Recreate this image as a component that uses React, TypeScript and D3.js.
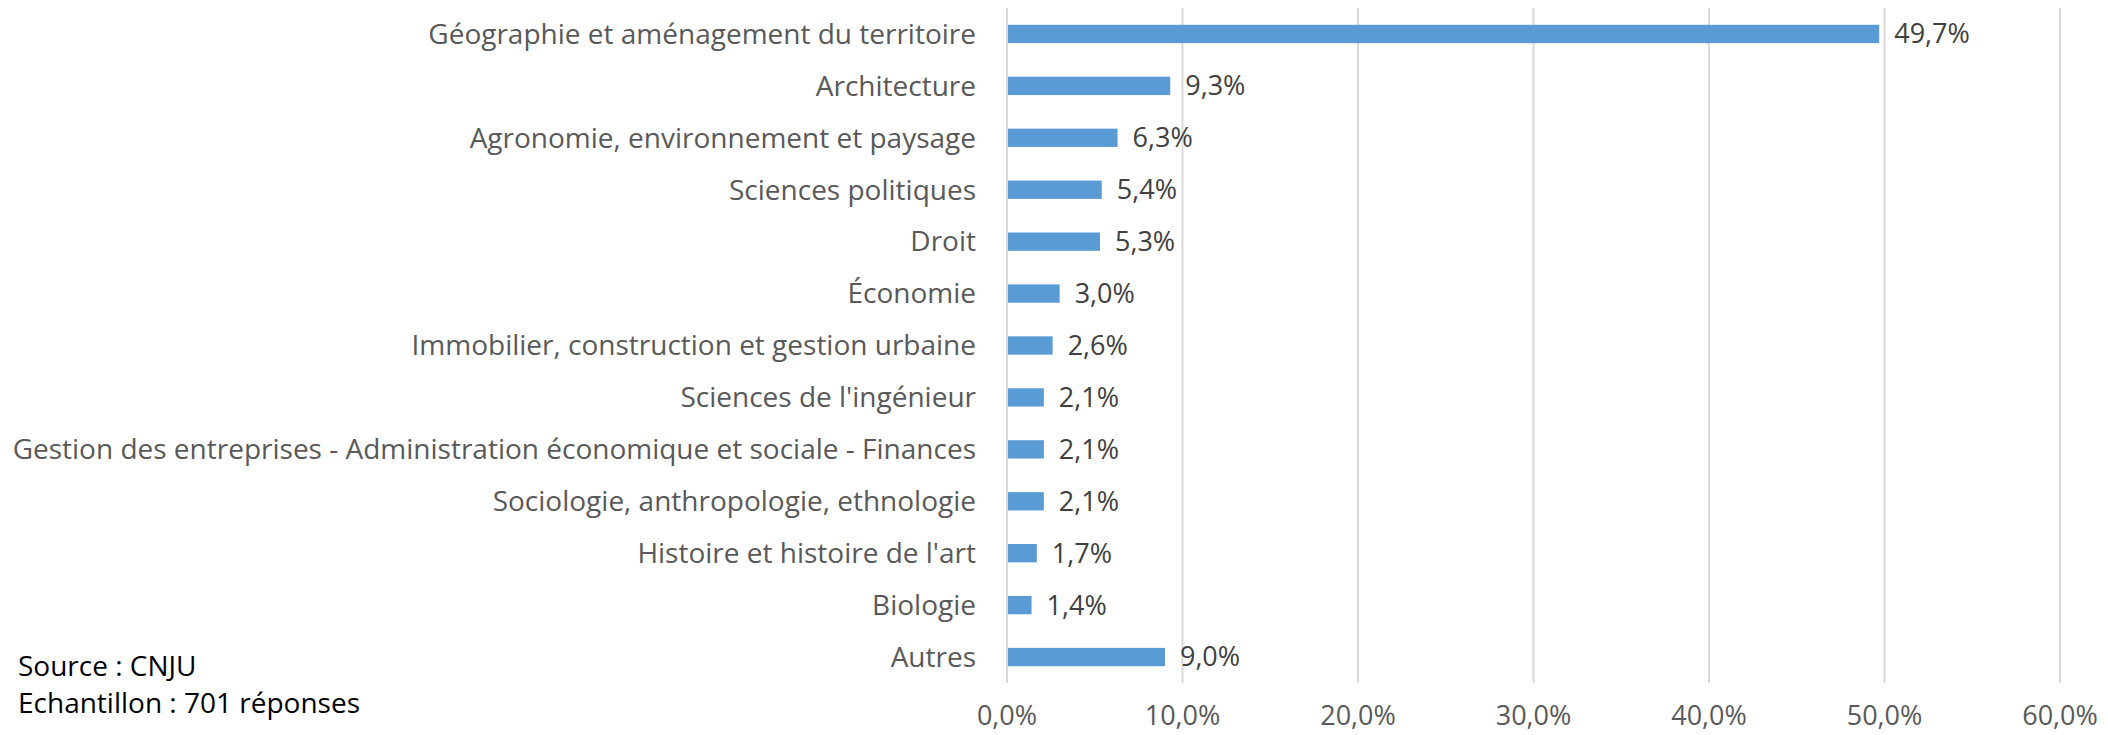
import React, { useRef, useEffect } from 'react';
import * as d3 from 'd3';

// categories, top to bottom
const categories = [
  'Géographie et aménagement du territoire',
  'Architecture',
  'Agronomie, environnement et paysage',
  'Sciences politiques',
  'Droit',
  'Économie',
  'Immobilier, construction et gestion urbaine',
  "Sciences de l'ingénieur",
  'Gestion des entreprises - Administration économique et sociale - Finances',
  'Sociologie, anthropologie, ethnologie',
  "Histoire et histoire de l'art",
  'Biologie',
  'Autres',
];

const values = [49.7, 9.3, 6.3, 5.4, 5.3, 3.0, 2.6, 2.1, 2.1, 2.1, 1.7, 1.4, 9.0];

const ticks = [0, 10, 20, 30, 40, 50, 60];

const sourceLines = ['Source : CNJU', 'Echantillon : 701 réponses'];

const fmt = (v: number) => v.toFixed(1).replace('.', ',') + '%';

const App = () => {
  const svgRef = useRef<SVGSVGElement>(null);

  useEffect(() => {
    const width = 2108;
    const height = 735;
    const left = 1007;
    const right = 2060;
    const top = 8;
    const bottom = 683;
    const font = '"Open Sans", Lato, sans-serif';

    const svg = d3.select(svgRef.current);
    svg.selectAll('*').remove();
    svg.attr('width', width).attr('height', height);

    svg.append('rect').attr('width', width).attr('height', height).attr('fill', 'white');

    const x = d3.scaleLinear().domain([0, 60]).range([left, right]);
    const y = d3.scaleBand().domain(categories).range([top, bottom]).paddingInner(0.647).paddingOuter(0.3235);

    // gridlines
    svg.append('g')
      .selectAll('line')
      .data(ticks)
      .enter()
      .append('line')
      .attr('x1', d => x(d))
      .attr('x2', d => x(d))
      .attr('y1', top)
      .attr('y2', bottom)
      .attr('stroke', '#d9d9d9')
      .attr('stroke-width', 2);

    // tick labels
    svg.append('g')
      .selectAll('text')
      .data(ticks)
      .enter()
      .append('text')
      .attr('x', d => x(d))
      .attr('y', 725)
      .attr('text-anchor', 'middle')
      .style('font-family', font)
      .style('font-size', '27px')
      .style('fill', '#595959')
      .text(d => fmt(d));

    // bars
    svg.append('g')
      .selectAll('rect')
      .data(values)
      .enter()
      .append('rect')
      .attr('x', x(0) + 1)
      .attr('y', (d, i) => y(categories[i])!)
      .attr('width', d => x(d) - x(0) - 1)
      .attr('height', y.bandwidth())
      .attr('fill', '#5b9bd5');

    // value labels
    svg.append('g')
      .selectAll('text')
      .data(values)
      .enter()
      .append('text')
      .attr('x', d => x(d) + 15)
      .attr('y', (d, i) => y(categories[i])! + y.bandwidth() / 2)
      .attr('dy', '0.35em')
      .style('font-family', font)
      .style('font-size', '27px')
      .style('fill', '#404040')
      .text(d => fmt(d));

    // category labels
    svg.append('g')
      .selectAll('text')
      .data(categories)
      .enter()
      .append('text')
      .attr('x', 976)
      .attr('y', d => y(d)! + y.bandwidth() / 2)
      .attr('dy', '0.35em')
      .attr('text-anchor', 'end')
      .style('font-family', font)
      .style('font-size', '28px')
      .style('fill', '#595959')
      .text(d => d);

    // source note
    svg.append('g')
      .selectAll('text')
      .data(sourceLines)
      .enter()
      .append('text')
      .attr('x', 18)
      .attr('y', (d, i) => 676 + i * 37)
      .style('font-family', font)
      .style('font-size', '28px')
      .style('fill', '#000000')
      .text(d => d);

    return () => {
      d3.select(svgRef.current).selectAll('*').remove();
    };
  }, []);

  return <svg ref={svgRef} style={{ position: 'absolute', left: 0, top: 0, display: 'block' }}></svg>;
};

export default App;
